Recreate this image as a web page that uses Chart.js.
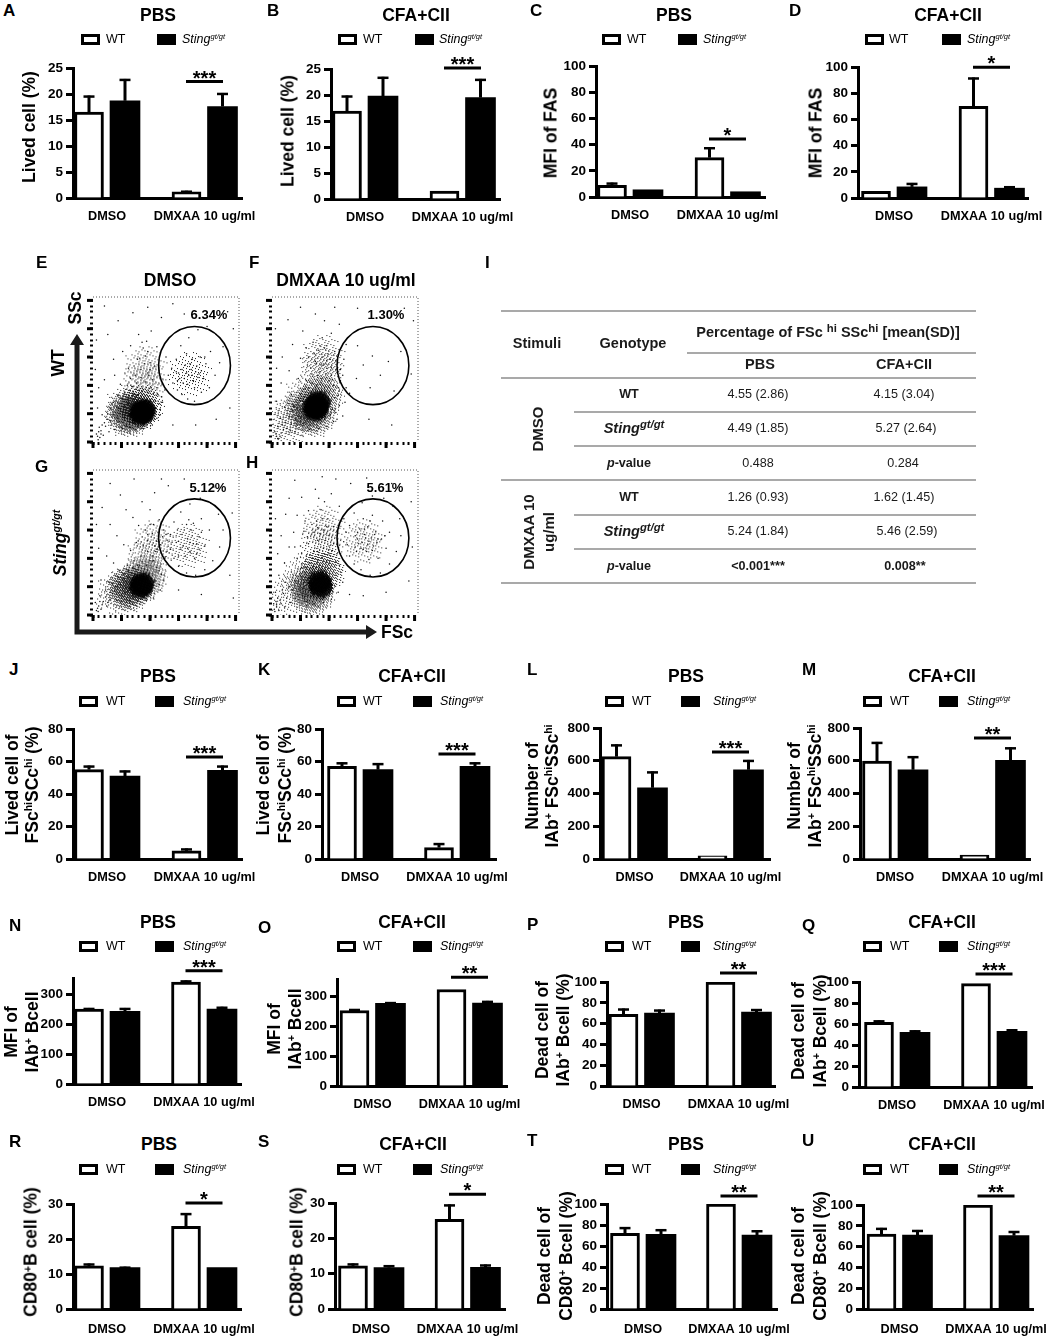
<!DOCTYPE html>
<html>
<head>
<meta charset="utf-8">
<title>Sting figure</title>
<script src="https://cdn.jsdelivr.net/npm/chart.js@4"></script>
<style>
  html, body { margin: 0; padding: 0; background: #fff; }
  #page { position: relative; width: 1050px; height: 1339px; overflow: hidden; background: #fff; font-family: "Liberation Sans", Arial, sans-serif; color: #000; }
  #page canvas { position: absolute; }
  .t { position: absolute; white-space: nowrap; line-height: 1; transform: translate(-50%, -50%); }
  .l { position: absolute; white-space: nowrap; line-height: 1; transform: translateY(-50%); }
  .r { position: absolute; white-space: nowrap; line-height: 1; transform: translate(-50%, -50%) rotate(-90deg); }
  sup { font-size: .6em; line-height: 0; vertical-align: .5em; }
  .big sup { font-size: .78em; vertical-align: .45em; }
  .sw { position: absolute; width: 19px; height: 11px; box-sizing: border-box; border: 3px solid #000; background: #fff; }
  .sw.k { background: #000; }
  .rule { position: absolute; height: 1.5px; background: #a9a9a9; }
</style>
</head>
<body>
<div id="page"></div>
<script>
// ---- bar panels, all lists run A B C D / J K L M / N O P Q / R S T U
const panelIds = ['A','B','C','D','J','K','L','M','N','O','P','Q','R','S','T','U'];
const panelTitles = ['PBS','CFA+CII','PBS','CFA+CII','PBS','CFA+CII','PBS','CFA+CII','PBS','CFA+CII','PBS','CFA+CII','PBS','CFA+CII','PBS','CFA+CII'];
const groupNames = ['DMSO','DMXAA 10 ug/ml'];

const wtMeans = [[16.5,1.2],[16.9,1.5],[9,30],[5,70],[55,5],[57,7],[625,20],[598,24],[250,340],[252,322],[69,100],[61.5,98.5],[12.3,23.6],[12.2,25.4],[72,100],[72,100]];
const wtUpper = [[19.7,1.4],[19.9,1.6],[11,38],[5.5,92],[57.5,6.5],[59.5,9.8],[700,22],[715,28],[254,346],[257,324],[74.5,100],[63.5,99],[13,27.4],[12.9,29.6],[78,100],[78,100]];
const koMeans = [[18.7,17.6],[19.8,19.5],[5.5,4],[8.5,7.5],[51,54.5],[55,57],[435,545],[545,603],[243,250],[276,277],[70,71],[52,53],[11.8,11.8],[11.7,11.8],[71,70.5],[71,70.5]];
const koUpper = [[22.9,20.2],[23.5,23.1],[6,4.7],[11.5,9],[54.5,57.5],[59,59.5],[535,605],[628,682],[254,258],[280,284],[73.5,74],[54,55],[12.1,12],[12.4,12.6],[76,75],[76,75]];

const axisMax = [25,25,100,100,80,80,800,800,354,357,100,100,30,30,100,100];
const axisTicks = [
  [0,5,10,15,20,25],[0,5,10,15,20,25],[0,20,40,60,80,100],[0,20,40,60,80,100],
  [0,20,40,60,80],[0,20,40,60,80],[0,200,400,600,800],[0,200,400,600,800],
  [0,100,200,300],[0,100,200,300],[0,20,40,60,80,100],[0,20,40,60,80,100],
  [0,10,20,30],[0,10,20,30],[0,20,40,60,80,100],[0,20,40,60,80,100]
];
const sigLevels = [22.4,25.2,44.3,99.8,62.8,64.6,653,739,378,363,108.6,107.6,30.3,32.5,107.6,108.7];
const sigStars = ['***','***','*','*','***','***','***','**','***','**','**','***','*','*','**','**'];

const STING = '<i>Sting</i><sup>gt/gt</sup>';
const yTitles = [
  ['Lived cell (%)'],['Lived cell (%)'],['MFI of FAS'],['MFI of FAS'],
  ['Lived cell of','FSc<sup>hi</sup>SCc<sup>hi</sup> (%)'],['Lived cell of','FSc<sup>hi</sup>SCc<sup>hi</sup> (%)'],
  ['Number of','IAb<sup>+</sup> FSc<sup>hi</sup>SSc<sup>hi</sup>'],['Number of','IAb<sup>+</sup> FSc<sup>hi</sup>SSc<sup>hi</sup>'],
  ['MFI of','IAb<sup>+</sup> Bcell'],['MFI of','IAb<sup>+</sup> Bcell'],
  ['Dead cell of','IAb<sup>+</sup> Bcell (%)'],['Dead cell of','IAb<sup>+</sup> Bcell (%)'],
  ['CD80<sup>+</sup>B cell (%)'],['CD80<sup>+</sup>B cell (%)'],
  ['Dead cell of','CD80<sup>+</sup> Bcell (%)'],['Dead cell of','CD80<sup>+</sup> Bcell (%)']
];

// ---- flow plots E F G H
const flowNames = ['E','F','G','H'];
const flowPercents = ['6.34%','1.30%','5.12%','5.61%'];
const flowTicks = [0,10,20,30,40,50,60,70,80,90,100,110,120,130,140,150,160,170,180,190,200,210,220,230,240,250];
const flowMajor = [0,50,100,150,200,250];
const gateCentres = [[178,135],[177,135],[178,136],[177,136]];
const gateRadii = [[63,69],[63,69],[63,69],[63,69]];

const flowSparse = [
  [[12,8],[6,14],[14,20],[9,4],[18,12],[22,28],[11,26],[28,18],[33,30],[25,40],[38,22],[44,35],[30,60],[16,48],[8,60],[42,62],[52,24],[58,28],[66,26],[75,22],[88,24],[104,30],[112,42],[118,58],[110,72],[120,80],[126,92],[112,96],[104,110],[96,122],[84,128],[74,118],[68,98],[56,88],[48,102],[38,118],[62,130],[78,146],[92,152],[100,140],[88,166],[94,178],[102,196],[80,190],[66,170],[52,160],[36,146],[20,110],[10,96],[26,190],[44,214],[70,228],[96,238],[120,220],[112,168],[128,150],[132,118],[140,104],[148,92],[156,84],[166,76],[178,72],[190,88],[204,96],[214,118],[222,140],[228,168],[216,190],[200,204],[184,198],[168,184],[154,170],[146,146],[138,130],[150,122],[160,112],[168,118],[176,108],[184,114],[190,126],[182,134],[172,128],[162,136],[156,128],[174,146],[188,150],[198,138],[206,160],[164,156],[148,108],[240,60],[246,200],[236,230],[160,226],[140,244],[20,240],[6,180],[4,128],[180,30],[216,40],[140,30],
   [96,88],[102,96],[88,92],[80,84],[92,106],[84,114],[98,118],[106,86],[114,84],[76,104],[90,138],[82,148],[96,160],[86,176],[100,128],[108,134],[72,134],[66,112],[60,100],[52,76],[44,82],[36,70],[62,76],[70,82],[110,60],[118,48],[116,68],[122,70],[48,50],[36,48],[30,38],[42,44],[20,34],[26,50],[16,30],[14,14],[8,10],[10,18],[152,112],[158,104],[166,102],[174,118],[180,124],[164,122],[170,138],[186,120],[194,112],[178,96],[196,150],[146,124]],
  [[8,10],[5,18],[12,6],[16,16],[10,28],[20,22],[24,34],[15,42],[32,20],[30,44],[40,18],[36,56],[22,62],[8,72],[44,30],[48,74],[34,84],[52,92],[60,108],[46,112],[30,126],[16,104],[70,120],[62,136],[50,148],[78,138],[84,124],[96,130],[104,118],[108,100],[116,82],[118,64],[112,52],[124,46],[108,36],[96,28],[82,24],[66,22],[58,34],[102,146],[110,160],[96,170],[88,184],[72,176],[60,166],[104,192],[118,208],[92,214],[76,226],[54,196],[36,172],[18,150],[8,130],[28,216],[50,238],[110,238],[130,172],[126,146],[124,118],[130,96],[136,86],[148,112],[160,136],[176,152],[190,118],[204,142],[172,96],[150,170],[214,90],[226,160],[244,120],[248,214],[232,236],[196,228],[150,236],[170,40],[210,30],[6,200],[128,70],[100,70],[92,96],[78,100],[68,88],[120,128],[88,150],[98,156],[74,156],[84,170],[64,150],[112,128],
   [86,112],[94,120],[80,118],[90,136],[100,108],[106,110],[76,92],[84,102],[58,94],[50,84],[42,72],[28,68],[38,64],[56,72],[64,96],[70,104],[110,78],[116,96],[120,108],[118,90],[106,58],[114,40],[102,48],[92,40],[50,42],[42,40],[34,32],[26,24],[18,30],[14,10],[10,6],[7,14],[96,144],[82,162],[92,166],[76,142],[68,130],[104,132],[112,144],[86,136]],
  [[6,8],[10,16],[4,22],[14,10],[18,24],[12,34],[24,16],[30,28],[22,44],[34,38],[42,26],[40,50],[28,58],[14,62],[50,36],[56,64],[46,78],[36,92],[24,104],[10,118],[60,88],[72,96],[84,104],[66,114],[54,124],[42,140],[30,160],[16,190],[6,160],[76,128],[88,122],[96,112],[106,96],[116,78],[124,62],[118,44],[106,30],[94,26],[78,24],[64,26],[112,130],[104,144],[92,150],[80,158],[70,172],[58,186],[48,212],[30,232],[86,200],[100,186],[116,168],[124,150],[130,132],[136,116],[142,100],[150,86],[164,74],[180,70],[196,80],[210,96],[222,120],[228,150],[220,178],[206,198],[188,206],[170,196],[154,182],[142,164],[136,142],[146,128],[154,116],[162,104],[170,112],[178,100],[186,116],[176,126],[166,134],[156,142],[172,150],[186,138],[196,122],[204,150],[190,170],[168,168],[148,150],[108,216],[132,228],[160,240],[212,226],[244,180],[240,70],[246,30],[190,36],[150,44],[120,240],[72,240],[100,160],[110,112],[96,132],[126,100],
   [104,104],[112,116],[118,124],[108,122],[100,96],[94,88],[86,94],[78,88],[70,84],[62,78],[54,72],[44,66],[34,56],[48,54],[58,60],[122,138],[128,142],[114,146],[106,160],[96,142],[112,84],[120,72],[110,60],[116,54],[30,40],[38,44],[22,32],[26,22],[16,18],[8,12],[9,6],[12,24],[150,130],[158,122],[166,118],[174,140],[182,126],[170,128],[160,150],[182,108],[190,146],[164,160],[150,104],[176,162]],
  [[5,6],[8,14],[3,20],[12,8],[16,20],[10,30],[6,40],[22,14],[26,30],[18,44],[32,22],[36,44],[24,58],[12,70],[42,30],[46,60],[34,76],[22,92],[10,108],[52,84],[44,100],[30,120],[16,140],[6,170],[60,104],[50,122],[38,146],[24,178],[64,126],[74,112],[56,148],[44,176],[30,206],[72,146],[80,132],[90,118],[100,108],[112,94],[120,76],[124,58],[116,40],[104,28],[90,22],[74,20],[60,24],[108,126],[100,140],[90,150],[78,166],[64,184],[52,208],[86,186],[98,170],[108,156],[92,200],[104,214],[76,222],[118,192],[126,170],[130,146],[132,124],[136,104],[144,90],[156,80],[172,70],[190,74],[206,90],[218,112],[226,140],[224,170],[212,192],[196,206],[176,210],[158,198],[144,180],[136,158],[146,140],[152,126],[160,116],[168,124],[176,114],[184,128],[174,136],[162,142],[154,152],[168,156],[182,148],[192,134],[200,118],[206,146],[194,166],[176,176],[160,170],[148,112],[186,100],[170,98],[138,232],[112,240],[166,242],[210,232],[244,200],[246,120],[240,60],[200,40],[160,34],[136,36],[88,244],[40,238],[82,206],
   [96,96],[88,102],[80,112],[72,100],[66,92],[58,84],[50,70],[40,60],[30,50],[20,38],[14,26],[8,18],[4,10],[7,24],[94,132],[84,144],[96,156],[88,170],[80,154],[100,122],[106,114],[114,108],[118,88],[112,70],[106,48],[62,138],[52,108],[40,120],[70,160],[58,166],[150,134],[158,128],[164,136],[170,130],[156,118],[166,112],[178,122],[186,134],[180,142],[172,166],[150,146],[146,120],[162,152],[198,140]]
];
// dense parts of each cloud, drawn as stippled discs
const flowCore = [
  [[87,53],[84,50],[90,56]],
  [[78,65],[74,60],[82,70],[78,58]],
  [[87,55],[84,50]],
  [[84,58],[86,50]]
];
const flowMid = [
  [[70,52],[84,62],[60,48]],
  [[62,58],[86,80],[74,48]],
  [[70,50],[90,66],[60,44]],
  [[68,52],[88,76],[72,38]]
];
const flowLight = [
  [[90,100],[92,130],[60,62],[170,120]],
  [[88,125],[90,150],[60,80],[40,50],[24,30]],
  [[96,100],[108,128],[44,38],[166,122]],
  [[88,120],[90,154],[56,70],[30,34],[160,130]]
];

// ---- page layout in px
// axis left, axis right, axis top, axis bottom, centre of group 1, centre of group 2, x label gap
const frames = [
  [73,242,68,198,107,204.5,11],[331,500,69,199,365,462.5,11],[596,765,66,197,630,727.5,11],[858,1028,67,198,894,991.5,11],
  [73,242,729,859,107,204.5,11],[322,496,729,859,360,457,11],[600,770,728,859,634.5,730.5,11],[860,1030,728,859,895,992.5,11],
  [73,241,978,1084,107,204,11],[337,507,979,1086,372.5,469.5,11],[607,775,982,1086,641.5,738.5,11],[859,1032,982,1087,897,994,11],
  [73,241,1204,1309,107,204,13],[335,505,1203,1309,371,467.5,13],[607,777,1204,1309,643,739,13],[863,1033,1205,1309,899.5,996,13]
];
// letter x,y  title x,y
const heads = [
  [3,11,158,15],[267,11,416,15],[530,11,674,15],[789,11,948,15],
  [9,670,158,676],[258,670,412,676],[527,670,686,676],[802,670,942,676],
  [9,926,158,922],[258,928,412,922],[527,925,686,922],[802,926,942,922],
  [9,1142,159,1144],[258,1142,413,1144],[527,1141,686,1144],[802,1141,942,1144]
];
// white swatch x, WT x, black swatch x, Sting x, y
const legends = [
  [81,106,157,182,39],[338,363,415,439,39],[602,627,678,703,39],[865,889,942,967,39],
  [79,106,155,183,701],[337,363,413,440,701],[605,632,681,713,701],[863,890,939,967,701],
  [79,106,155,183,946],[337,363,413,440,946],[605,632,681,713,946],[863,890,939,967,946],
  [79,106,155,183,1169],[337,363,413,440,1169],[605,632,681,713,1169],[863,890,939,967,1169]
];
// y title line x positions and centre y
const yTitlePos = [
  [[29],127],[[288],131],[[551],133],[[816],133],
  [[12,32],785],[[263,285],785],[[532,552],786],[[794,815],786],
  [[11,32],1032],[[274,295],1029],[[542,563],1030],[[798,820],1031],
  [[31],1252],[[297],1252],[[544,566],1256],[[798,820],1256]
];
// plot left, right, top, bottom
const flowFrames = [[93.3,239.5,295,442.3],[271.7,417.7,295,442.3],[93.3,239.5,468.3,615.5],[271.7,417.7,468.3,615.5]];
const flowPercentPos = [[209,314],[386,314],[208,487],[385,487]];

const page = document.getElementById('page');

function put(cls, x, y, html, css) {
  const el = document.createElement('div');
  el.className = cls;
  el.style.left = x + 'px';
  el.style.top = y + 'px';
  el.style.cssText += css || '';
  el.innerHTML = html || '';
  page.appendChild(el);
}

function addCanvas(x, y, w, h) {
  const c = document.createElement('canvas');
  c.width = w;
  c.height = h;
  c.style.left = x + 'px';
  c.style.top = y + 'px';
  c.style.width = w + 'px';
  c.style.height = h + 'px';
  page.appendChild(c);
  return c;
}

// stippled round sprite for the dense parts of a cloud (a fixed dither texture, no data in it)
function stippleDot(r, gain, phase) {
  const c = document.createElement('canvas');
  c.width = c.height = r * 2;
  const g = c.getContext('2d');
  const img = g.createImageData(r * 2, r * 2);
  const frac = v => v - Math.floor(v);
  for (let py = 0; py < r * 2; py++) {
    for (let px = 0; px < r * 2; px++) {
      const d = Math.hypot(px - r + 0.5, py - r + 0.5) / r;
      if (d >= 1) continue;
      const level = gain * (1 - d) * (1 + d);
      const limit = frac(52.9829189 * frac(0.06711056 * (px + phase) + 0.00583715 * (py + phase)));
      if (level > limit) img.data[(py * r * 2 + px) * 4 + 3] = 225;
    }
  }
  g.putImageData(img, 0, 0);
  return c;
}
const coreDot = stippleDot(13, 2.4, 3);
const midDot = stippleDot(24, 0.5, 17);
const lightDot = stippleDot(25, 0.14, 41);

Chart.defaults.font.family = '"Liberation Sans", Arial, sans-serif';
Chart.defaults.color = '#000';

// error bars and the significance bracket
const barExtras = {
  id: 'barExtras',
  afterDatasetsDraw(chart, args, opts) {
    const ctx = chart.ctx;
    const x = chart.scales.x, y = chart.scales.y;
    ctx.save();
    ctx.strokeStyle = '#000';
    ctx.fillStyle = '#000';
    chart.data.datasets.forEach(ds => {
      ds.data.forEach((p, i) => {
        const px = x.getPixelForValue(p.x);
        const top = y.getPixelForValue(ds.upper[i]);
        const base = y.getPixelForValue(p.y);
        if (base - top < 1) return;
        ctx.lineWidth = 3;
        ctx.beginPath(); ctx.moveTo(px, base); ctx.lineTo(px, top); ctx.stroke();
        ctx.lineWidth = 2.5;
        ctx.beginPath(); ctx.moveTo(px - 5.5, top + 1); ctx.lineTo(px + 5.5, top + 1); ctx.stroke();
      });
    });
    const sy = y.getPixelForValue(opts.level);
    ctx.lineWidth = 3;
    ctx.beginPath();
    ctx.moveTo(x.getPixelForValue(1 - opts.half), sy);
    ctx.lineTo(x.getPixelForValue(1 + opts.half), sy);
    ctx.stroke();
    ctx.font = 'bold 20px "Liberation Sans", Arial, sans-serif';
    ctx.textAlign = 'center';
    ctx.textBaseline = 'alphabetic';
    ctx.fillText(opts.stars, x.getPixelForValue(1), sy + 3);
    ctx.restore();
  }
};

function drawBarPanel(i) {
  const [L, R, T, B, g0, g1, gap] = frames[i];
  const unit = g1 - g0;
  const off = 18 / unit;
  const canvas = addCanvas(L - 62, T - 45, R - L + 88, B - T + 79);
  const toPoints = (vals, shift) => vals.map((v, g) => ({ x: g + shift, y: v }));
  new Chart(canvas, {
    type: 'bar',
    data: {
      datasets: [
        { label: 'WT', data: toPoints(wtMeans[i], -off), upper: wtUpper[i], backgroundColor: '#fff', borderColor: '#000', borderWidth: 3, barThickness: 29, grouped: false },
        { label: 'Sting', data: toPoints(koMeans[i], off), upper: koUpper[i], backgroundColor: '#000', borderColor: '#000', borderWidth: 0, barThickness: 30, grouped: false }
      ]
    },
    options: {
      responsive: false,
      animation: false,
      events: [],
      layout: { padding: { left: 0, right: 26, top: 45, bottom: 0 } },
      plugins: {
        legend: { display: false },
        tooltip: { enabled: false },
        barExtras: { level: sigLevels[i], stars: sigStars[i], half: 18.5 / unit }
      },
      scales: {
        x: {
          type: 'linear',
          offset: false,
          min: (L - g0) / unit,
          max: 1 + (R - g1) / unit,
          afterBuildTicks: s => { s.ticks = [{ value: 0 }, { value: 1 }]; },
          afterFit: s => { s.height = 34; s.paddingLeft = 0; s.paddingRight = 0; },
          grid: { display: false, drawTicks: false, offset: false },
          border: { display: true, color: '#000', width: 3 },
          ticks: { autoSkip: false, maxRotation: 0, padding: gap, font: { size: 12.7, weight: 'bold' }, callback: v => groupNames[v] }
        },
        y: {
          min: 0,
          max: axisMax[i],
          afterBuildTicks: s => { s.ticks = axisTicks[i].map(v => ({ value: v })); },
          afterFit: s => { s.width = 62; },
          grid: { drawOnChartArea: false, drawTicks: true, tickLength: 7, tickWidth: 3, tickColor: '#000' },
          border: { display: true, color: '#000', width: 3 },
          ticks: { autoSkip: false, padding: 3, font: { size: 13.5, weight: 'bold' } }
        }
      }
    },
    plugins: [barExtras]
  });

  const [lx, ly, tx, ty] = heads[i];
  put('l', lx, ly, panelIds[i], 'font:bold 17px "Liberation Sans";');
  put('t', tx, ty, panelTitles[i], 'font:bold 17.5px "Liberation Sans";');

  const [w0, wt, k0, st, ly2] = legends[i];
  put('sw', w0, ly2 - 5.5);
  put('l', wt, ly2, 'WT', 'font:12.5px "Liberation Sans";');
  put('sw k', k0, ly2 - 5.5);
  put('l', st, ly2, STING, 'font:italic 12.5px "Liberation Sans";');

  const [xs, cy] = yTitlePos[i];
  yTitles[i].forEach((line, n) => put('r', xs[n], cy, line, 'font:bold 17.5px "Liberation Sans";'));
}

// gate ring, long ticks and the dotted frame of a flow plot
const flowExtras = {
  id: 'flowExtras',
  afterDatasetsDraw(chart, args, opts) {
    const ctx = chart.ctx, a = chart.chartArea;
    const x = chart.scales.x, y = chart.scales.y;
    ctx.save();
    ctx.strokeStyle = '#555';
    ctx.lineWidth = 1;
    ctx.setLineDash([1, 2]);
    ctx.beginPath();
    ctx.moveTo(a.left, a.top); ctx.lineTo(a.right, a.top); ctx.lineTo(a.right, a.bottom);
    ctx.stroke();
    ctx.setLineDash([]);
    ctx.strokeStyle = '#000';
    ctx.lineWidth = 3;
    flowMajor.forEach(v => {
      const px = x.getPixelForValue(v), py = y.getPixelForValue(v);
      ctx.beginPath(); ctx.moveTo(px, a.bottom); ctx.lineTo(px, a.bottom + 6); ctx.stroke();
      ctx.beginPath(); ctx.moveTo(a.left, py); ctx.lineTo(a.left - 6, py); ctx.stroke();
    });
    ctx.lineWidth = 1.6;
    ctx.beginPath();
    ctx.ellipse(x.getPixelForValue(opts.centre[0]), y.getPixelForValue(opts.centre[1]),
      Math.abs(x.getPixelForValue(opts.radii[0]) - x.getPixelForValue(0)),
      Math.abs(y.getPixelForValue(opts.radii[1]) - y.getPixelForValue(0)), 0, 0, Math.PI * 2);
    ctx.stroke();
    ctx.restore();
  }
};

function drawFlowPanel(i) {
  const [L, R, T, B] = flowFrames[i];
  const canvas = addCanvas(L - 12, T - 2, R - L + 16, B - T + 14);
  canvas.style.filter = 'blur(0.35px)';
  const pts = list => list.map(p => ({ x: p[0], y: p[1] }));
  const tickAxis = (afterFit) => ({
    min: 0, max: 256,
    afterBuildTicks: s => { s.ticks = flowTicks.map(v => ({ value: v })); },
    afterFit,
    grid: { drawOnChartArea: false, drawTicks: true, tickLength: 3, tickWidth: 2, tickColor: '#000' },
    border: { display: false },
    ticks: { display: false, autoSkip: false }
  });
  new Chart(canvas, {
    type: 'scatter',
    data: {
      datasets: [
        { data: pts(flowSparse[i]), pointRadius: 0.75, backgroundColor: '#111', borderWidth: 0 },
        { data: pts(flowCore[i]), pointStyle: coreDot, backgroundColor: '#000', borderWidth: 0 },
        { data: pts(flowMid[i]), pointStyle: midDot, backgroundColor: '#000', borderWidth: 0 },
        { data: pts(flowLight[i]), pointStyle: lightDot, backgroundColor: '#000', borderWidth: 0 }
      ]
    },
    options: {
      responsive: false,
      animation: false,
      events: [],
      layout: { padding: { left: 0, right: 4, top: 2, bottom: 0 } },
      plugins: {
        legend: { display: false },
        tooltip: { enabled: false },
        flowExtras: { centre: gateCentres[i], radii: gateRadii[i] }
      },
      scales: {
        x: tickAxis(s => { s.height = 12; }),
        y: tickAxis(s => { s.width = 12; })
      }
    },
    plugins: [flowExtras]
  });
  put('t', flowPercentPos[i][0], flowPercentPos[i][1], flowPercents[i], 'font:bold 13px "Liberation Sans";');
}

panelIds.forEach((_, i) => drawBarPanel(i));
flowNames.forEach((_, i) => drawFlowPanel(i));

// flow plot labels and the big arrows
const bold17 = 'font:bold 17.5px "Liberation Sans";';
put('l', 36, 263, 'E', 'font:bold 17px "Liberation Sans";');
put('l', 249, 263, 'F', 'font:bold 17px "Liberation Sans";');
put('l', 35, 467, 'G', 'font:bold 17px "Liberation Sans";');
put('l', 246, 463, 'H', 'font:bold 17px "Liberation Sans";');
put('l', 485, 263, 'I', 'font:bold 17px "Liberation Sans";');
put('t', 170, 280, 'DMSO', bold17);
put('t', 346, 280, 'DMXAA 10 ug/ml', bold17);
put('r', 75, 308, 'SSc', bold17);
put('r', 58, 363, 'WT', bold17);
put('r', 60, 543, '<i>Sting<sup>gt/gt</sup></i>', bold17);
put('t', 397, 632, 'FSc', bold17);
const arrows = document.createElementNS('http://www.w3.org/2000/svg', 'svg');
arrows.setAttribute('width', 1050);
arrows.setAttribute('height', 1339);
arrows.style.cssText = 'position:absolute;left:0;top:0;pointer-events:none';
arrows.innerHTML = '<path d="M77 340V632H372" fill="none" stroke="#1a1a1a" stroke-width="5"/>' +
  '<path d="M77 334L70 345H84Z M377 632L366 625V639Z" fill="#1a1a1a"/>';
page.appendChild(arrows);

// table I
const tableRules = [[501,310,475],[687,352,289],[501,377,475],[574,411,402],[574,445,402],[501,479,475],[574,514,402],[574,548,402],[501,582,475]];
tableRules.forEach(r => {
  const el = document.createElement('div');
  el.className = 'rule';
  el.style.cssText = 'left:' + r[0] + 'px;top:' + r[1] + 'px;width:' + r[2] + 'px';
  page.appendChild(el);
});
const cellB = 'font:bold 14.5px "Liberation Sans";color:#1a1a1a;';
const cellN = 'font:12.6px "Liberation Sans";color:#1a1a1a;';
const cellS = 'font:bold 12.6px "Liberation Sans";color:#1a1a1a;';
const cellR = 'font:bold 15px "Liberation Sans";color:#1a1a1a;';
const stingCell = '<i>Sting<sup>gt/gt</sup></i>';
const pCell = '<i>p</i>-value';
const rowLabels = ['WT', stingCell, pCell, 'WT', stingCell, pCell];
const pbsCells = ['4.55 (2.86)','4.49 (1.85)','0.488','1.26 (0.93)','5.24 (1.84)','<b>&lt;0.001***</b>'];
const cfaCells = ['4.15 (3.04)','5.27 (2.64)','0.284','1.62 (1.45)','5.46 (2.59)','<b>0.008**</b>'];
const rowY = [394,428,463,497,531,566];
const cfaX = [904,906,903,904,907,905];
put('t', 537, 343, 'Stimuli', cellB);
put('t', 633, 343, 'Genotype', cellB);
put('t big', 828, 332, 'Percentage of FSc <sup>hi</sup> SSc<sup>hi</sup> [mean(SD)]', cellB);
put('t', 760, 364, 'PBS', cellB);
put('t', 904, 364, 'CFA+CII', cellB);
put('r', 537, 429, 'DMSO', cellR);
put('r', 528, 532, 'DMXAA 10', cellR);
put('r', 548, 532, 'ug/ml', cellR);
rowY.forEach((y, i) => {
  if (i % 3 === 1) put('t big', 634, y, rowLabels[i], 'font:bold 14.5px "Liberation Sans";color:#1a1a1a;');
  else put('t', 629, y, rowLabels[i], cellS);
  put('t', 758, y, pbsCells[i], cellN);
  put('t', cfaX[i], y, cfaCells[i], cellN);
});
</script>
</body>
</html>
